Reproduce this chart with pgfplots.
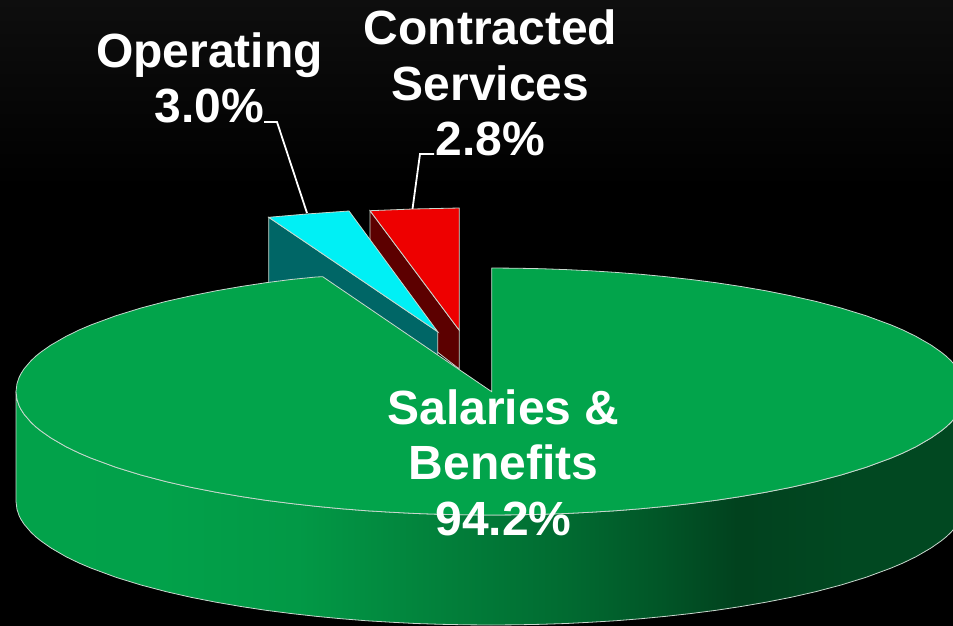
\documentclass[border=0pt]{standalone}
\usepackage{fontspec}
\setmainfont{Liberation Sans}
\usepackage{pgfplots}
\pgfplotsset{compat=1.18}
\definecolor{topgreen}{HTML}{02A44B}
\definecolor{edge}{HTML}{C8D8CE}
\definecolor{cyantop}{HTML}{00F0F5}
\definecolor{tealside}{HTML}{006666}
\definecolor{redtop}{HTML}{EE0000}
\definecolor{redside}{HTML}{5C0000}
\definecolor{bgtop}{HTML}{0E0E0E}
\pgfdeclarehorizontalshading{greenside}{100bp}{
 color(0bp)=(topgreen!99!black);
 color(25bp)=(topgreen!99!black);
 color(33bp)=(topgreen!98!black);
 color(40bp)=(topgreen!93!black);
 color(48bp)=(topgreen!77!black);
 color(54bp)=(topgreen!65!black);
 color(59bp)=(topgreen!52!black);
 color(63bp)=(topgreen!40!black);
 color(69bp)=(topgreen!44!black);
 color(75bp)=(topgreen!44!black);
 color(100bp)=(topgreen!44!black)}
\pgfdeclareverticalshading{bgshade}{100bp}{
 color(0bp)=(black);
 color(60bp)=(black);
 color(75bp)=(bgtop);
 color(100bp)=(bgtop)}
\tikzset{lbl/.style={font=\fontsize{48}{55.6}\selectfont\bfseries,text=white,align=center,inner sep=0pt}}
\begin{document}
\begin{tikzpicture}
\begin{axis}[scale only axis,width=953pt,height=625pt,xmin=0,xmax=953,ymin=0,ymax=625,y dir=reverse,hide axis,clip=true]
\addplot[draw=none,shade,shading=bgshade] coordinates {(0,0)(953,0)(953,625)(0,625)} --cycle;
% red slice
\addplot[draw=edge,line width=0.8pt,fill=redside] coordinates {(370,210.7)(459.3,330.3)(459.3,369)(370,300)} --cycle;
\addplot[draw=edge,line width=0.8pt,fill=redtop] coordinates {(370,210.7)(412.7,209)(459.3,208)(459.3,330.3)} --cycle;
% cyan slice
\addplot[draw=edge,line width=0.8pt,fill=tealside] coordinates {(268.7,217.3)(437.7,331.7)(437.7,360)(268.7,300)} --cycle;
\addplot[draw=edge,line width=0.8pt,fill=cyantop] coordinates {(268.7,217.3)(306.7,214)(349,211)(437.7,331.7)} --cycle;
% green side wall
\addplot[draw=edge,line width=0.8pt,shade,shading=greenside] coordinates {
(16,391.5)(17,399.5)(19,405.4)(21,409.4)(24,414.1)(31,422.3)(36,427)(41,431)(51,438)(66,446.7)(79,453)(91,458.1)(116,467.3)(141,475)(166,481.6)(191,487.3)(216,492.2)(241,496.5)(266,500.3)(291,503.5)(316,506.3)(341,508.7)(366,510.7)(391,512.2)(416,513.5)(441,514.3)(466,514.8)(491,515)(516,514.8)(541,514.3)(566,513.5)(591,512.2)(616,510.7)(641,508.7)(666,506.3)(691,503.5)(716,500.3)(741,496.5)(766,492.2)(791,487.3)(816,481.6)(841,475)(866,467.3)(891,458.1)(903,453)(916,446.7)(931,438)(941,431)(946,427)(951,422.3)(958,414.1)(961,409.4)(963,405.4)(965,399.5)(966,391.5)
(966,501.5)(965,509.5)(963,515.4)(961,519.4)(958,524.1)(951,532.3)(946,537)(941,541)(931,548)(916,556.7)(903,563)(891,568.1)(866,577.3)(841,585)(816,591.6)(791,597.3)(766,602.2)(741,606.5)(716,610.3)(691,613.5)(666,616.3)(641,618.7)(616,620.7)(591,622.2)(566,623.5)(541,624.3)(516,624.8)(491,625)(466,624.8)(441,624.3)(416,623.5)(391,622.2)(366,620.7)(341,618.7)(316,616.3)(291,613.5)(266,610.3)(241,606.5)(216,602.2)(191,597.3)(166,591.6)(141,585)(116,577.3)(91,568.1)(79,563)(66,556.7)(51,548)(41,541)(36,537)(31,532.3)(24,524.1)(21,519.4)(19,515.4)(17,509.5)(16,501.5)} --cycle;
% green top
\addplot[draw=edge,line width=0.8pt,fill=topgreen] coordinates {
(491.7,391.7)(491.7,268)(516,268.2)(541,268.7)(566,269.6)(591,270.8)(616,272.4)(641,274.3)(666,276.7)(691,279.5)(716,282.7)(741,286.5)(766,290.8)(791,295.8)(816,301.4)(841,308)(866,315.7)(891,324.9)(903,330)(916,336.4)(931,345)(941,352)(946,356)(951,360.7)(958,368.9)(961,373.6)(963,377.6)(965,383.5)(966,391.5)
(965,399.5)(963,405.4)(961,409.4)(958,414.1)(951,422.3)(946,427)(941,431)(931,438)(916,446.7)(903,453)(891,458.1)(866,467.3)(841,475)(816,481.6)(791,487.3)(766,492.2)(741,496.5)(716,500.3)(691,503.5)(666,506.3)(641,508.7)(616,510.7)(591,512.2)(566,513.5)(541,514.3)(516,514.8)(491,515)(466,514.8)(441,514.3)(416,513.5)(391,512.2)(366,510.7)(341,508.7)(316,506.3)(291,503.5)(266,500.3)(241,496.5)(216,492.2)(191,487.3)(166,481.6)(141,475)(116,467.3)(91,458.1)(79,453)(66,446.7)(51,438)(41,431)(36,427)(31,422.3)(24,414.1)(21,409.4)(19,405.4)(17,399.5)(16,391.5)
(17,383.5)(19,377.6)(21,373.6)(24,368.9)(31,360.7)(36,356)(41,352)(51,345)(66,336.4)(79,330)(91,324.9)(116,315.7)(141,308)(166,301.4)(191,295.8)(216,290.8)(241,286.5)(266,282.7)(291,279.5)(316,277)(322.7,276.7)} --cycle;
% leader lines
\addplot[draw=white,line width=1.8pt] coordinates {(264,122)(277,122)(307,213)};
\addplot[draw=white,line width=1.8pt] coordinates {(434,154)(420,154)(412.5,209)};
\node[lbl] at (axis cs:209.5,78) {Operating\\3.0\%};
\node[lbl] at (axis cs:490.5,83) {Contracted\\Services\\2.8\%};
\node[lbl] at (axis cs:503.5,462.5) {Salaries \&\\Benefits\\94.2\%};
\end{axis}
\end{tikzpicture}
\end{document}
